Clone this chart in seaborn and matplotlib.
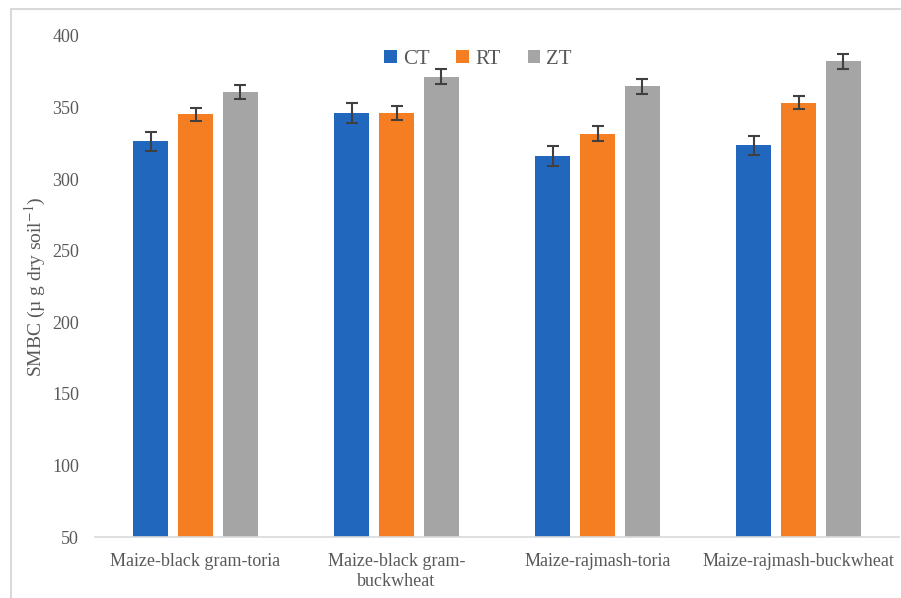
import pandas as pd
import matplotlib.pyplot as plt
import seaborn as sns
from matplotlib.patches import Rectangle

# dados
sistemas = ['Maize-black gram-toria', 'Maize-black gram-\nbuckwheat',
            'Maize-rajmash-toria', 'Maize-rajmash-buckwheat']
tratamentos = ['CT', 'RT', 'ZT']
ct = [326.4, 346.4, 316.4, 323.6]
rt = [345.3, 346.4, 331.8, 353.4]
zt = [360.7, 371.4, 364.8, 382.3]
ct_err = [6.5, 7.0, 7.0, 6.7]
rt_err = [4.5, 5.0, 5.2, 4.7]
zt_err = [5.0, 5.2, 5.3, 5.1]
cores = ['#2267BE', '#F57E22', '#A5A5A5']

df = pd.DataFrame({
    'sistema': sistemas * 3,
    'trat': ['CT'] * 4 + ['RT'] * 4 + ['ZT'] * 4,
    'smbc': ct + rt + zt,
    'erro': ct_err + rt_err + zt_err,
})

sns.set_style('white')
plt.rcParams['font.family'] = ['Liberation Serif', 'DejaVu Serif']
plt.rcParams['mathtext.fontset'] = 'stix'

fig = plt.figure(figsize=(9.01, 5.98), dpi=100)
ax = fig.add_axes([95 / 901, 1 - 537 / 598, 804 / 901, 501 / 598])

sns.barplot(data=df, x='sistema', y='smbc', hue='trat', hue_order=tratamentos,
            palette=cores, width=0.67, gap=0.22, errorbar=None,
            saturation=1, linewidth=0, ax=ax)

# barras de erro nos centros das barras
for i, t in enumerate(tratamentos):
    sub = df[df['trat'] == t]
    barras = ax.containers[i]
    xs = [b.get_x() + b.get_width() / 2 for b in barras]
    ax.errorbar(xs, sub['smbc'], yerr=sub['erro'], fmt='none',
                ecolor='#404040', elinewidth=1.5, capsize=4.5, capthick=1.5)

ax.set_ylim(50, 400)
ax.set_yticks(range(50, 401, 50))
ax.set_xlim(-0.5, 3.5)
ax.set_xlabel('')
ax.set_ylabel(r'SMBC (µ g dry soil$^{-1}$)', fontsize=14, color='#595959')
ax.yaxis.set_label_coords(-0.058, 0.5)
ax.tick_params(axis='both', length=0, labelsize=13, labelcolor='#595959')
ax.tick_params(axis='x', pad=11.5)
ax.tick_params(axis='y', pad=11.5)
sns.despine(ax=ax, left=True)
ax.spines['bottom'].set_color('#D9D9D9')
ax.spines['bottom'].set_linewidth(1.2)

ax.legend(loc='center', bbox_to_anchor=(478 / 901, 1 - 59 / 598),
          bbox_transform=fig.transFigure, ncol=3, frameon=False,
          fontsize=15, handlelength=0.6, handleheight=0.6, handletextpad=0.3,
          columnspacing=1.3, labelcolor='#595959')

# borda do gráfico (estilo Excel)
fig.patches.append(Rectangle((11 / 901, -0.02), 1.0, 1 - 9 / 598 + 0.02,
                             transform=fig.transFigure, fill=False,
                             edgecolor='#D9D9D9', linewidth=1.5))

fig.savefig('out.png', dpi=100)
